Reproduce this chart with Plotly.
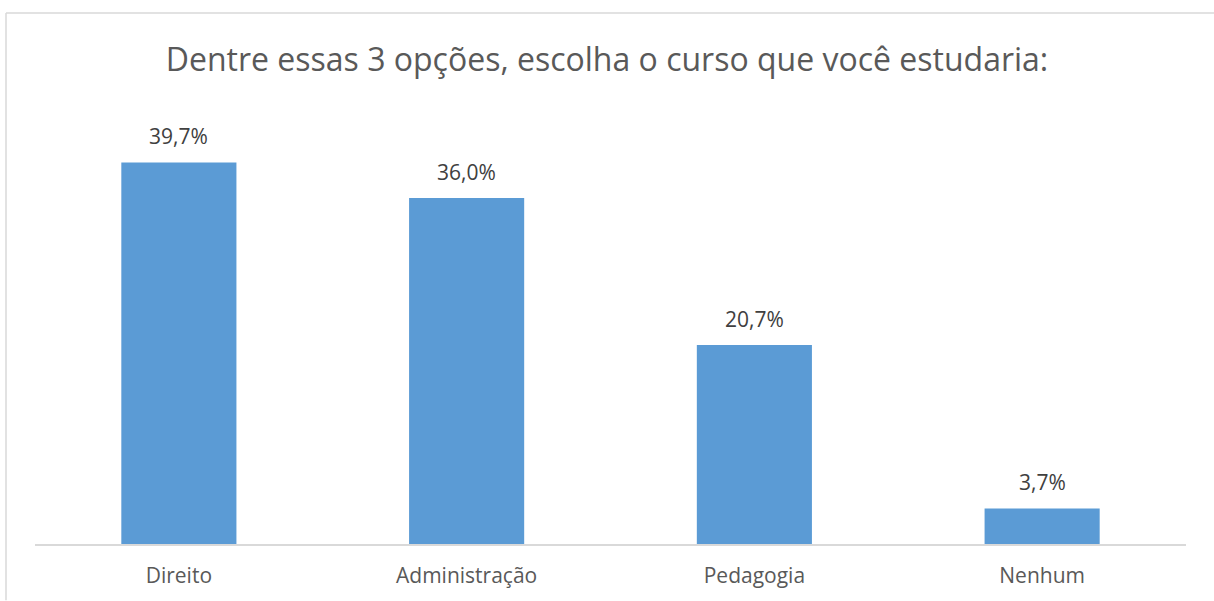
import plotly.graph_objects as go

# Survey answers (share of respondents, %)
CURSOS = ["Direito", "Administração", "Pedagogia", "Nenhum"]
PERCENT = [39.7, 36.0, 20.7, 3.7]

BAR_COLOR = "#5B9BD5"
FONT = "Open Sans"

W, H = 1214, 601
M_L, M_R, M_T, M_B = 35, 28, 100, 52
plot_w = W - M_L - M_R
plot_h = H - M_T - M_B


def px_x(px):
    return (px - M_L) / plot_w


def px_y(py):
    return (H - M_B - py) / plot_h


fig = go.Figure(go.Bar(
    x=CURSOS,
    y=PERCENT,
    marker=dict(color=BAR_COLOR, line=dict(width=0)),
    hovertemplate="%{x}: %{y:.1f}%<extra></extra>",
))

# value labels above bars
for c, v in zip(CURSOS, PERCENT):
    fig.add_annotation(
        x=c, y=v, text=f"{v:.1f}%".replace(".", ","),
        showarrow=False, yanchor="bottom", yshift=10,
        font=dict(family=FONT, size=21, color="#404040"),
    )

# chart-area border (left and top edges visible)
fig.add_shape(type="line", xref="paper", yref="paper",
              x0=px_x(6), x1=px_x(W + 5), y0=px_y(12), y1=px_y(12),
              line=dict(color="#D9D9D9", width=1.5))
fig.add_shape(type="line", xref="paper", yref="paper",
              x0=px_x(6), x1=px_x(6), y0=px_y(12), y1=px_y(H + 5),
              line=dict(color="#D9D9D9", width=1.5))

fig.update_layout(
    width=W, height=H,
    margin=dict(l=M_L, r=M_R, t=M_T, b=M_B),
    paper_bgcolor="white", plot_bgcolor="white",
    title=dict(
        text="Dentre essas 3 opções, escolha o curso que você estudaria:",
        x=0.5, xanchor="center", y=1 - 60 / H, yanchor="middle",
        font=dict(family=FONT, size=32, color="#595959"),
    ),
    bargap=0.6,
    showlegend=False,
    xaxis=dict(
        showline=True, linecolor="#D9D9D9", linewidth=1.5,
        ticks="", showgrid=False, ticklabelstandoff=12,
        tickfont=dict(family=FONT, size=21, color="#595959"),
    ),
    yaxis=dict(
        range=[0, plot_h / 9.72], visible=False, showgrid=False,
    ),
)

# drop the page's default body margin so the figure sits at (0, 0)
fig.write_html(
    "out.html",
    config={"displayModeBar": False},
    post_script="document.body.style.margin = '0';",
)
